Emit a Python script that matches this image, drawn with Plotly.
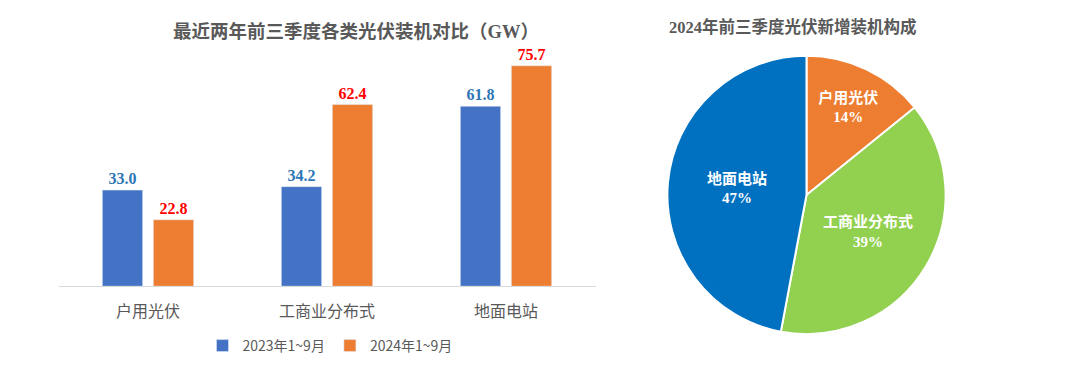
import plotly.graph_objects as go

categories = ["户用光伏", "工商业分布式", "地面电站"]
series_names = ["2023年1~9月", "2024年1~9月"]
values_2023 = [33.0, 34.2, 61.8]
values_2024 = [22.8, 62.4, 75.7]
pie_labels = ["户用光伏", "工商业分布式", "地面电站"]
pie_values = values_2024

# page body has an 8px margin; work in window pixel coordinates
OX, OY = 8, 8
W, H = 1064, 354
def px(x): return (x - OX) / W
def py(y): return 1 - (y - OY) / H

SERIF_CJK = "Liberation Serif, Noto Sans CJK SC"
SANS_CJK = "Noto Sans CJK SC"

fig = go.Figure()
fig.add_trace(go.Bar(
    x=categories, y=values_2023, name=series_names[0],
    marker_color="#4472C4",
    text=[f"{v:.1f}" for v in values_2023], textposition="outside",
    textfont=dict(family="Liberation Serif", size=16, color="#2E75B6", weight="bold"),
    cliponaxis=False,
))
fig.add_trace(go.Bar(
    x=categories, y=values_2024, name=series_names[1],
    marker_color="#ED7D31",
    text=[f"{v:.1f}" for v in values_2024], textposition="outside",
    textfont=dict(family="Liberation Serif", size=16, color="#FF0000", weight="bold"),
    cliponaxis=False,
))
fig.add_trace(go.Pie(
    labels=pie_labels, values=pie_values, sort=False, direction="clockwise",
    rotation=0, showlegend=False,
    marker=dict(colors=["#ED7D31", "#92D050", "#0070C0"], line=dict(color="white", width=2)),
    texttemplate="<b>%{label}</b><br><b>%{percent:.0%}</b>",
    textposition="inside", insidetextorientation="horizontal",
    textfont=dict(family=SERIF_CJK, size=15, color="white"),
    domain=dict(x=[px(667), px(946)], y=[py(335), py(56)]),
    hoverinfo="label+percent",
))

fig.update_layout(
    width=W, height=H,
    margin=dict(l=0, r=0, t=0, b=0),
    paper_bgcolor="white", plot_bgcolor="white",
    barmode="group", bargap=0.43, bargroupgap=0.21,
    xaxis=dict(domain=[px(58.5), px(595.5)], showline=True, linecolor="#D9D9D9", linewidth=1,
               ticks="outside", ticklen=11, tickcolor="rgba(0,0,0,0)",
               tickfont=dict(family=SANS_CJK, size=16, color="#595959"),
               showgrid=False),
    yaxis=dict(domain=[py(287), py(53.4)], range=[0, 80], visible=False, showgrid=False),
    legend=dict(orientation="h", x=px(330), xanchor="center", y=py(347), yanchor="middle",
                font=dict(family=SANS_CJK, size=14, color="#595959"),
                itemwidth=30, traceorder="normal"),
    annotations=[
        dict(text="<b>最近两年前三季度各类光伏装机对比（GW）</b>", x=px(356), y=py(32),
             xref="paper", yref="paper", showarrow=False, xanchor="center", yanchor="middle",
             font=dict(family=SERIF_CJK, size=18.5, color="#595959")),
        dict(text="<b>2024年前三季度光伏新增装机构成</b>", x=px(793), y=py(27),
             xref="paper", yref="paper", showarrow=False, xanchor="center", yanchor="middle",
             font=dict(family=SERIF_CJK, size=16.5, color="#595959")),
    ],
)

fig.write_html("out.html")
